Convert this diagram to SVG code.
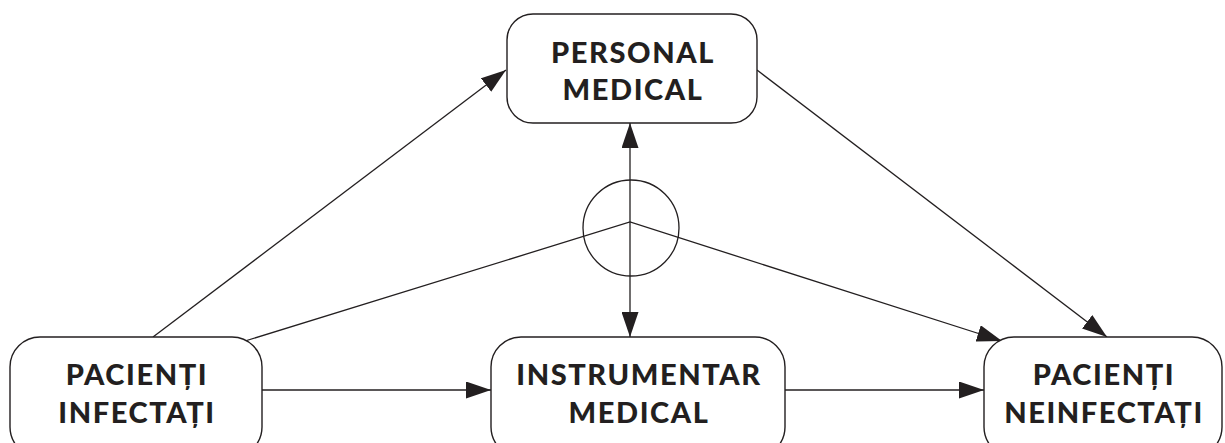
<svg xmlns="http://www.w3.org/2000/svg" width="1225" height="443" viewBox="0 0 1225 443">
  <style>
    .box { fill: #ffffff; stroke: #231f20; stroke-width: 1.4; }
    .lbl { font-family: "Lato", "Open Sans", "DejaVu Sans", sans-serif; font-weight: 900; font-size: 29px; letter-spacing: 1.6px; fill: #231f20; text-anchor: middle; }
    .ln { fill: none; stroke: #231f20; stroke-width: 1.3; }
  </style>
  <defs>
    <marker id="arr" viewBox="0 0 25 17" refX="25" refY="8.5" markerWidth="25" markerHeight="17" markerUnits="userSpaceOnUse" orient="auto-start-reverse">
      <path d="M0,0 L25,8.5 L0,17 Z" fill="#231f20"/>
    </marker>
  </defs>

  <g id="connectors">
    <line class="ln" x1="153" y1="337" x2="506" y2="70" marker-end="url(#arr)"/>
    <line class="ln" x1="757" y1="70" x2="1107" y2="337" marker-end="url(#arr)"/>
    <line class="ln" x1="630" y1="123" x2="630" y2="337" marker-start="url(#arr)" marker-end="url(#arr)"/>
    <circle class="ln" cx="631" cy="228" r="48"/>
    <polyline class="ln" points="245,341 630,222 1002,341" marker-end="url(#arr)"/>
    <line class="ln" x1="262" y1="390" x2="491" y2="390" marker-end="url(#arr)"/>
    <line class="ln" x1="785" y1="390" x2="984" y2="390" marker-end="url(#arr)"/>
  </g>

  <g id="personal-medical">
    <rect class="box" x="507" y="14" width="250" height="109" rx="26"/>
    <text class="lbl" x="633" y="63">PERSONAL</text>
    <text class="lbl" x="633" y="100">MEDICAL</text>
  </g>

  <g id="pacienti-infectati">
    <rect class="box" x="10" y="337" width="252" height="120" rx="30"/>
    <text class="lbl" x="137" y="385">PACIENȚI</text>
    <text class="lbl" x="137" y="423">INFECTAȚI</text>
  </g>

  <g id="instrumentar-medical">
    <rect class="box" x="491" y="337" width="294" height="120" rx="30"/>
    <text class="lbl" x="639" y="385">INSTRUMENTAR</text>
    <text class="lbl" x="639" y="423">MEDICAL</text>
  </g>

  <g id="pacienti-neinfectati">
    <rect class="box" x="984" y="337" width="238" height="120" rx="30"/>
    <text class="lbl" x="1104" y="385">PACIENȚI</text>
    <text class="lbl" x="1104" y="423">NEINFECTAȚI</text>
  </g>
</svg>
